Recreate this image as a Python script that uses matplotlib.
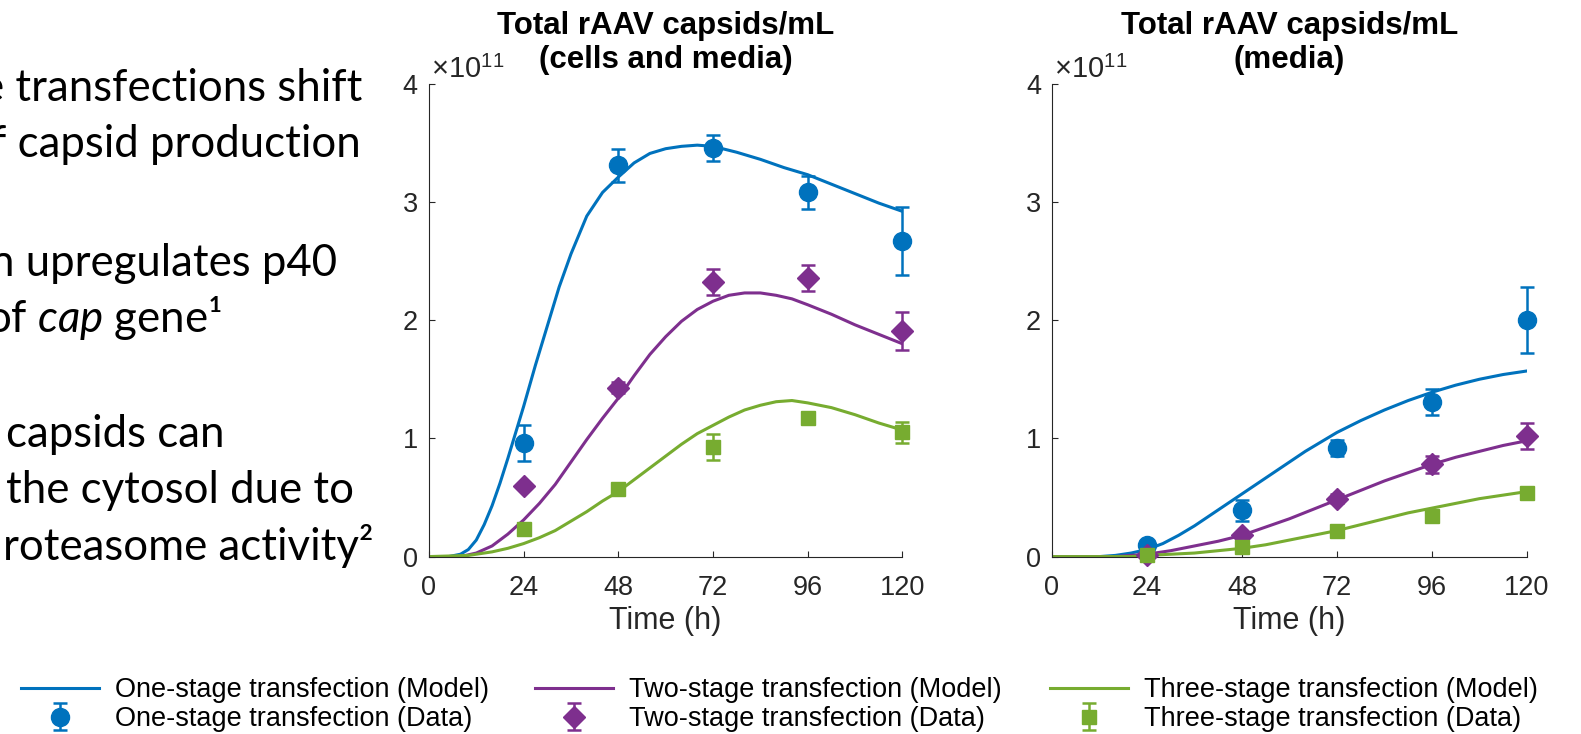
import numpy as np
import matplotlib.pyplot as plt

plt.rcParams['font.family'] = ['Liberation Sans', 'DejaVu Sans']
plt.rcParams['mathtext.fontset'] = 'custom'
plt.rcParams['mathtext.rm'] = 'Liberation Sans'
plt.rcParams['mathtext.it'] = 'Lato:italic'

SCALE = 1e11
BLUE, PURPLE, GREEN = '#0072BD', '#7E2F8E', '#77AC30'
AXCOL = '#262626'

t_data = [24, 48, 72, 96, 120]

# measured capsids (units of 1e11), cells + media
cm_one = [0.96, 3.31, 3.46, 3.08, 2.67]
cm_one_err = [0.15, 0.14, 0.11, 0.14, 0.29]
cm_two = [0.60, 1.43, 2.32, 2.36, 1.91]
cm_two_err = [0.02, 0.05, 0.11, 0.11, 0.16]
cm_three = [0.23, 0.57, 0.93, 1.17, 1.05]
cm_three_err = [0.03, 0.04, 0.11, 0.04, 0.09]

# measured capsids, media only
md_one = [0.10, 0.39, 0.92, 1.31, 2.00]
md_one_err = [0.02, 0.09, 0.07, 0.11, 0.28]
md_two = [0.01, 0.18, 0.49, 0.78, 1.02]
md_two_err = [0.02, 0.03, 0.04, 0.07, 0.11]
md_three = [0.01, 0.08, 0.22, 0.34, 0.54]
md_three_err = [0.01, 0.02, 0.02, 0.03, 0.03]

# model trajectories, cells + media
cm_one_t = [0, 5, 8, 10, 12, 14, 16, 18, 20, 22, 24, 27, 30, 33, 36, 40, 44, 48, 52, 56,
            60, 64, 68, 72, 78, 84, 90, 96, 102, 108, 114, 120]
cm_one_y = [0, 0.0, 0.02, 0.06, 0.14, 0.27, 0.43, 0.62, 0.83, 1.05, 1.27, 1.62, 1.95, 2.28,
            2.56, 2.88, 3.08, 3.21, 3.33, 3.41, 3.45, 3.47, 3.48, 3.47, 3.42, 3.36, 3.29,
            3.23, 3.15, 3.07, 2.99, 2.92]
cm_two_t = [0, 8, 12, 16, 20, 24, 28, 32, 36, 40, 44, 48, 52, 56, 60, 64, 68, 72, 76, 80,
            84, 88, 92, 96, 102, 108, 114, 120]
cm_two_y = [0, 0.0, 0.03, 0.09, 0.19, 0.31, 0.45, 0.61, 0.80, 0.99, 1.17, 1.34, 1.53, 1.71,
            1.86, 1.99, 2.09, 2.16, 2.21, 2.23, 2.23, 2.21, 2.18, 2.13, 2.05, 1.96, 1.88, 1.80]
cm_three_t = [0, 10, 16, 20, 24, 28, 32, 36, 40, 44, 48, 52, 56, 60, 64, 68, 72, 76, 80, 84,
              88, 92, 96, 102, 108, 114, 120]
cm_three_y = [0, 0.01, 0.04, 0.07, 0.11, 0.16, 0.22, 0.30, 0.38, 0.47, 0.55, 0.65, 0.75,
              0.85, 0.95, 1.04, 1.11, 1.18, 1.24, 1.28, 1.31, 1.32, 1.30, 1.26, 1.20, 1.13, 1.07]

# model trajectories, media only
md_one_t = [0, 12, 16, 20, 24, 28, 32, 36, 40, 44, 48, 52, 56, 60, 64, 68, 72, 78, 84, 90,
            96, 102, 108, 114, 120]
md_one_y = [0, 0.0, 0.01, 0.03, 0.06, 0.11, 0.18, 0.26, 0.35, 0.44, 0.53, 0.62, 0.71, 0.80,
            0.89, 0.97, 1.05, 1.15, 1.24, 1.32, 1.39, 1.45, 1.50, 1.54, 1.57]
md_two_t = [0, 16, 20, 24, 30, 36, 42, 48, 54, 60, 66, 72, 78, 84, 90, 96, 102, 108, 114, 120]
md_two_y = [0, 0.0, 0.01, 0.02, 0.05, 0.09, 0.13, 0.18, 0.25, 0.32, 0.40, 0.48, 0.56, 0.64,
            0.71, 0.78, 0.84, 0.89, 0.94, 0.98]
md_three_t = [0, 20, 24, 30, 36, 42, 48, 54, 60, 66, 72, 78, 84, 90, 96, 102, 108, 114, 120]
md_three_y = [0, 0.0, 0.01, 0.02, 0.03, 0.05, 0.07, 0.10, 0.14, 0.18, 0.22, 0.27, 0.32, 0.37,
              0.41, 0.45, 0.49, 0.52, 0.55]

labels = ['One-stage transfection', 'Two-stage transfection', 'Three-stage transfection']

slide_lines = [
    ('e transfections shift', -19, 101),
    ('f capsid production', -9, 157),
    ('n upregulates p40', -10, 276),
    (r'of $\mathit{cap}$ gene¹', -14, 332),
    ('capsids can', 6, 447),
    ('the cytosol due to', 6, 503),
    ('roteasome activity²', 3, 560),
]

W, H = 1581, 734
fig = plt.figure(figsize=(W / 100, H / 100), dpi=100)

for text, x, y in slide_lines:
    fig.text(x / W, 1 - y / H, text, fontsize=31.5, family=['Lato', 'DejaVu Sans'],
             color='black', ha='left', va='baseline')


def panel(ax, title, series):
    handles = []
    for (mt, my, dy, de, color, marker, ms, lab) in series:
        ln, = ax.plot(mt, np.array(my) * SCALE, color=color, lw=2.2, label=lab + ' (Model)')
        eb = ax.errorbar(t_data, np.array(dy) * SCALE, yerr=np.array(de) * SCALE,
                         fmt=marker, color=color, ms=ms, elinewidth=1.8, capsize=5,
                         capthick=1.8, label=lab + ' (Data)', zorder=3)
        for art in eb.lines:
            if art is None:
                continue
            for a in (art if isinstance(art, tuple) else [art]):
                a.set_clip_on(False)
        handles.append((ln, eb))
    ax.set_xlim(0, 120)
    ax.set_ylim(0, 4 * SCALE)
    ax.set_xticks([0, 24, 48, 72, 96, 120])
    ax.set_yticks(np.arange(5) * SCALE)
    ax.set_yticklabels([str(i) for i in range(5)])
    for s in ('top', 'right'):
        ax.spines[s].set_visible(False)
    for s in ('left', 'bottom'):
        ax.spines[s].set_color(AXCOL)
        ax.spines[s].set_linewidth(0.8)
    ax.tick_params(direction='in', length=4, width=0.8, color=AXCOL, labelcolor=AXCOL,
                   labelsize=19.5)
    ax.tick_params(axis='x', pad=13)
    ax.tick_params(axis='y', pad=8)
    ax.set_xlabel('Time (h)', fontsize=22, color=AXCOL, labelpad=4)
    ax.set_title(title, fontsize=22.5, fontweight='bold', pad=11, linespacing=1.2)
    ax.text(0.004, 1.013, r'$\times\mathrm{10}^{\mathrm{11}}$', transform=ax.transAxes,
            fontsize=21, color=AXCOL, ha='left', va='baseline')
    return handles


ax1 = fig.add_axes([0.2713, 0.2417, 0.2995, 0.6443])
ax2 = fig.add_axes([0.6654, 0.2417, 0.3004, 0.6443])

h1 = panel(ax1, 'Total rAAV capsids/mL\n(cells and media)', [
    (cm_one_t, cm_one_y, cm_one, cm_one_err, BLUE, 'o', 13, labels[0]),
    (cm_two_t, cm_two_y, cm_two, cm_two_err, PURPLE, 'D', 11, labels[1]),
    (cm_three_t, cm_three_y, cm_three, cm_three_err, GREEN, 's', 10, labels[2]),
])
panel(ax2, 'Total rAAV capsids/mL\n(media)', [
    (md_one_t, md_one_y, md_one, md_one_err, BLUE, 'o', 13, labels[0]),
    (md_two_t, md_two_y, md_two, md_two_err, PURPLE, 'D', 11, labels[1]),
    (md_three_t, md_three_y, md_three, md_three_err, GREEN, 's', 10, labels[2]),
])

# one legend block per transfection type
for (ln, eb), lab, x in zip(h1, labels, [30, 544, 1059]):
    fig.legend([ln, eb], [lab + ' (Model)', lab + ' (Data)'], loc='upper left',
               bbox_to_anchor=(x / W - 0.006, 1 - 677 / H), frameon=False, fontsize=19.5,
               handlelength=2.9, handletextpad=0.6, labelspacing=0.12, borderpad=0,
               borderaxespad=0)

fig.savefig('out.png', dpi=100)
